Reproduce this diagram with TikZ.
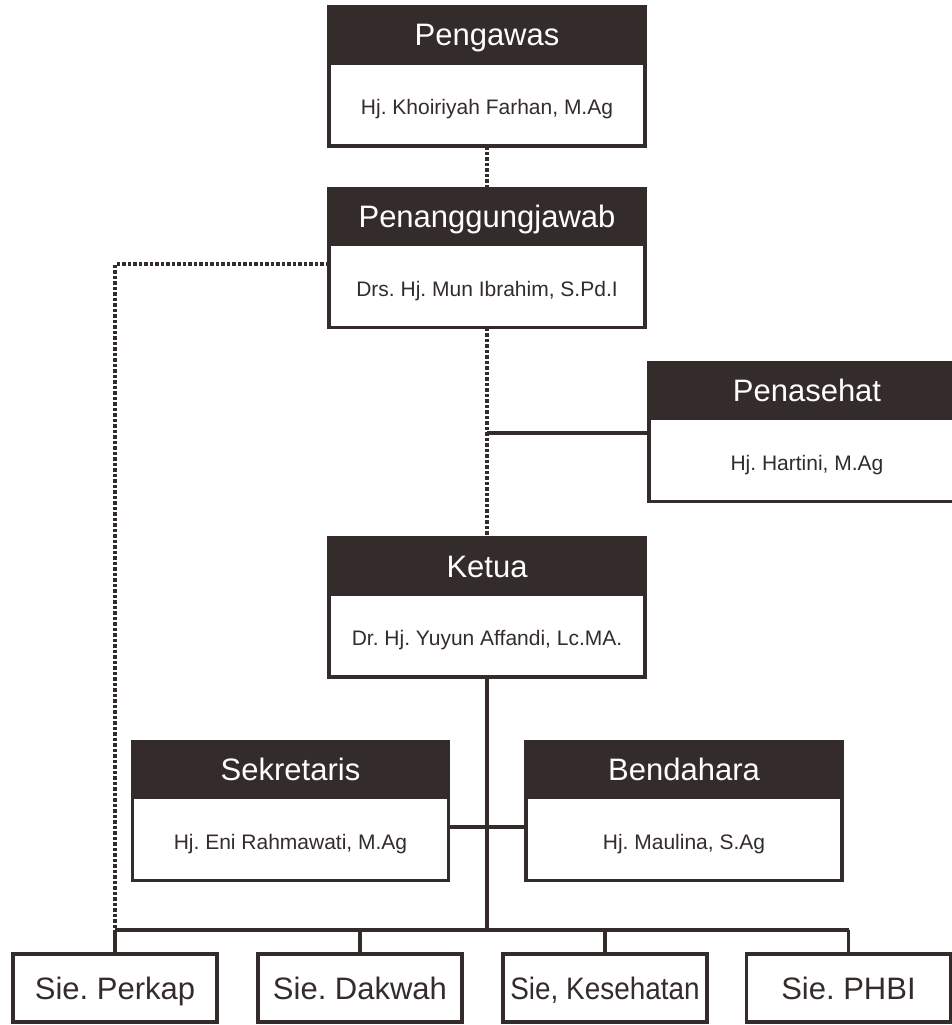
\documentclass[tikz,border=0pt]{standalone}
\usepackage{fontspec}
\setmainfont{Liberation Sans}
\usepackage{graphicx}
\usepackage{tikz}
\usetikzlibrary{positioning}
\definecolor{darkhead}{RGB}{51,44,42}
\frenchspacing

\begin{document}
\begin{tikzpicture}[x=1pt,y=-1pt,line width=3.2pt,color=darkhead,
                    head node/.style={draw,fill=darkhead,text=white,minimum width=316pt,minimum height=56pt,
                                      inner sep=0pt,outer sep=0pt,text height=22pt,text depth=0pt,
                                      font=\fontsize{31}{36}\selectfont},
                    body node/.style={draw,fill=white,minimum width=316pt,minimum height=83pt,
                                      inner sep=0pt,outer sep=0pt,text height=20pt,text depth=0pt,
                                      font=\fontsize{21}{25}\selectfont},
                    sie node/.style={draw,fill=white,minimum width=204pt,minimum height=68pt,
                                     inner sep=0pt,outer sep=0pt,text height=22pt,text depth=0pt,
                                     font=\fontsize{31}{36}\selectfont},
                    dotline/.style={dash pattern=on 3.5pt off 2pt}]

\useasboundingbox (0,0) rectangle (951,1025);

\node[head node] (pengawas) at (487,35) {Pengawas};
\node[body node, below=0pt of pengawas] (pengawasbody) {Hj. Khoiriyah Farhan, M.Ag};

\node[head node] (pj) at (487,216.5) {Penanggungjawab};
\node[body node, below=0pt of pj] (pjbody) {Drs. Hj. Mun Ibrahim, S.Pd.I};

\node[head node] (penasehat) at (807,390.5) {Penasehat};
\node[body node, below=0pt of penasehat] (penasehatbody) {Hj. Hartini, M.Ag};

\node[head node] (ketua) at (487,566) {Ketua};
\node[body node, below=0pt of ketua] (ketuabody) {Dr. Hj. Yuyun Affandi, Lc.MA.};

\node[head node] (sekretaris) at (290.5,769.5) {Sekretaris};
\node[body node, below=0pt of sekretaris] (sekretarisbody) {Hj. Eni Rahmawati, M.Ag};

\node[head node] (bendahara) at (684,769.5) {Bendahara};
\node[body node, below=0pt of bendahara] (bendaharabody) {Hj. Maulina, S.Ag};

\node[sie node] (perkap) at (115,988) {Sie. Perkap};
\node[sie node] (dakwah) at (360,988) {Sie. Dakwah};
\node[sie node] (kesehatan) at (605,988) {\scalebox{0.9}[1]{Sie, Kesehatan}};
\node[sie node] (phbi) at (848.5,988) {Sie. PHBI};

\coordinate (pjdot) at (329,264);
\coordinate (pnsjoin) at (487,433);
\coordinate (sbjoin) at (487,827);
\coordinate (bus) at (487,930);

% dotted lines
\draw[dotline] (pengawasbody) -- (pj);
\draw[dotline] (pjbody) -- (ketua);
\draw[dotline] (pjdot) -| (bus -| perkap);

% solid lines
\draw (pnsjoin) -- (pnsjoin -| penasehatbody.west);
\draw (ketuabody) -- (bus);
\draw (sbjoin -| sekretarisbody.east) -- (sbjoin -| bendaharabody.west);
\draw (bus -| perkap) -- (bus -| phbi);
\foreach \s in {perkap,dakwah,kesehatan,phbi}
    \draw (bus -| \s) -- (\s);
\end{tikzpicture}
\end{document}
